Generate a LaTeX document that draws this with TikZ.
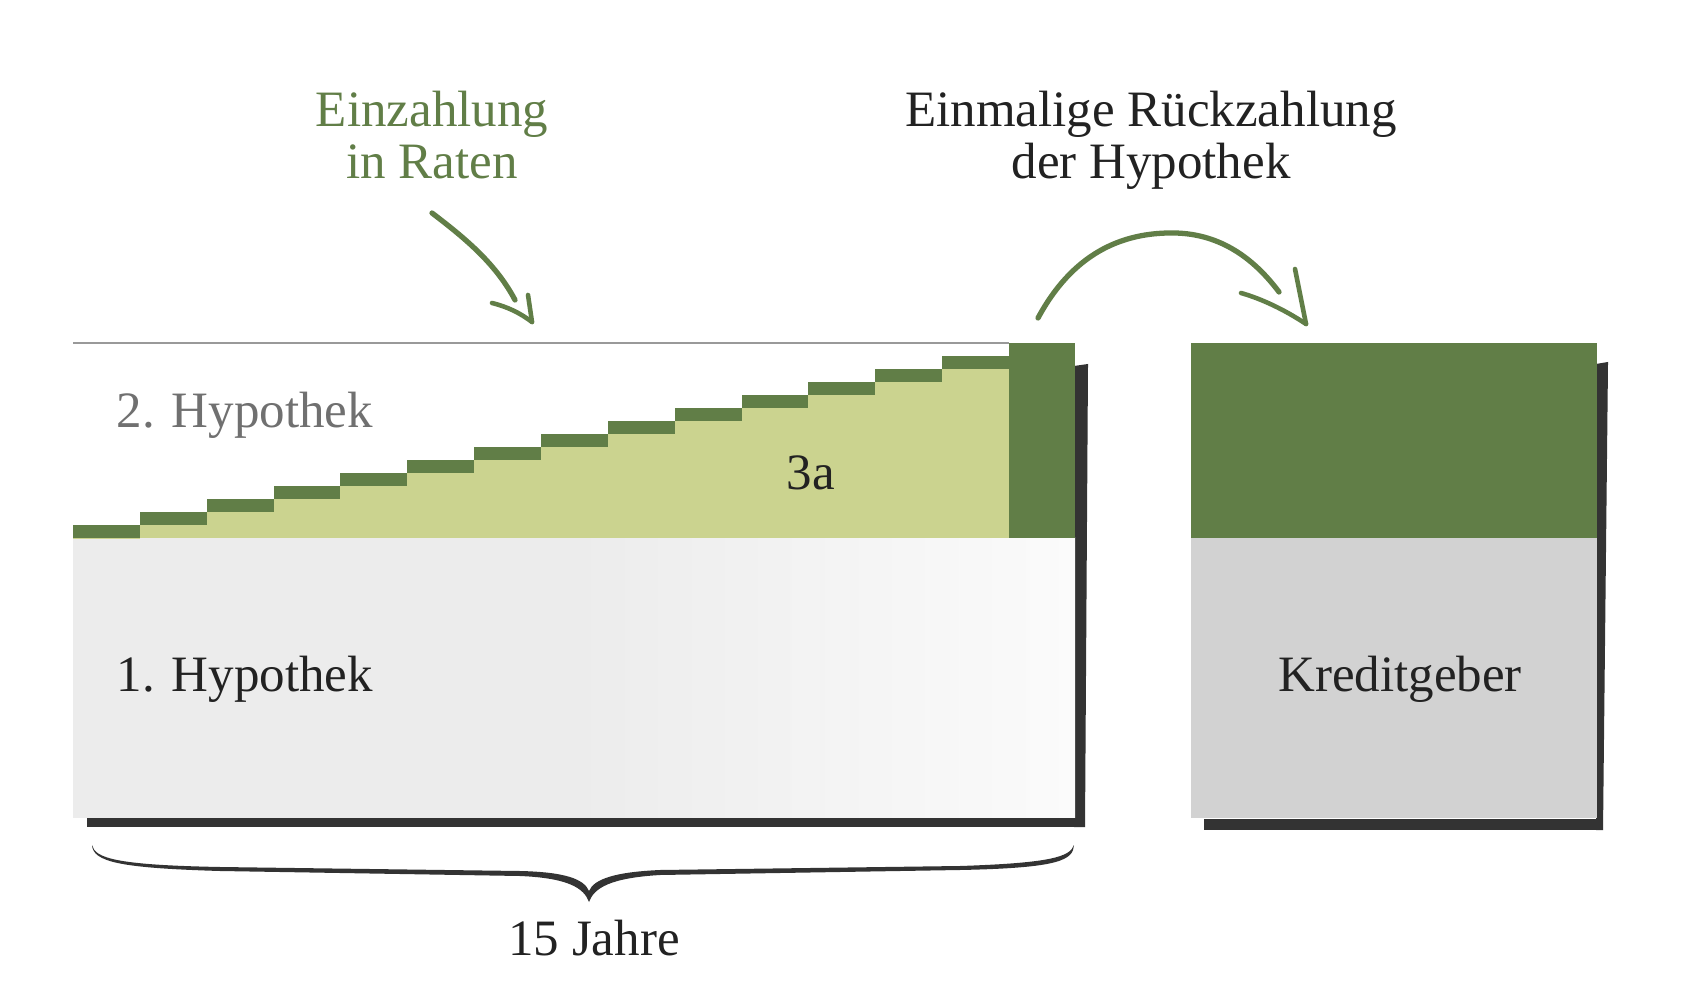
\documentclass[tikz,border=0pt]{standalone}
\usepackage{fontspec}
\setmainfont{Liberation Serif}
\definecolor{mgreen}{RGB}{97,126,71}
\definecolor{lgreen}{RGB}{203,211,143}
\definecolor{lgray}{RGB}{236,236,236}
\definecolor{lwhite}{RGB}{251,251,251}
\definecolor{kgray}{RGB}{210,210,210}
\definecolor{shadowc}{RGB}{51,51,51}
\definecolor{txt}{RGB}{34,34,34}
\definecolor{hgray}{RGB}{112,112,112}
\pgfdeclarehorizontalshading{boxfade}{100bp}{color(0bp)=(lgray); color(50bp)=(lgray); color(75bp)=(lwhite); color(100bp)=(lwhite)}
\tikzset{
  lbl/.style={inner sep=0pt, anchor=base, text=txt, font=\fontsize{14.5}{16}\selectfont},
  brush/.style={draw=mgreen, line width=1.5pt, line cap=round, line join=round},
  barb/.style={draw=mgreen, line width=1.3pt, line cap=round},
}
\begin{document}
\begin{tikzpicture}[x=0.01cm, y=-0.01cm]
\useasboundingbox (0,0) rectangle (1701,1001);
\fill[white] (0,0) rectangle (1701,1001);

% ---- left block: shadows
\fill[shadowc] (87,816) rectangle (1085,827);
\fill[shadowc] (1074,366) -- (1088,364) -- (1085,827) -- (1074,827) -- cycle;
% ---- left block: 1. Hypothek area
\shade[shading=boxfade] (73,538) rectangle (1075,817);
% top gray line
\draw[gray!80, line width=0.5pt] (73,343) -- (1009,343);
% ---- steps
\foreach \k in {0,...,13}{
  \fill[lgreen] ({73+66.86*\k},{538-13*\k}) rectangle ({73+66.86*(\k+1)+0.6},538.5);
  \fill[mgreen] ({73+66.86*\k},{525-13*\k}) rectangle ({73+66.86*(\k+1)+0.6},{538.4-13*\k});
}
\fill[mgreen] (1009,343) rectangle (1075,538.5);

% ---- right block
\fill[shadowc] (1204,819) rectangle (1603,830);
\fill[shadowc] (1596,364) -- (1608,362) -- (1603,830) -- (1596,830) -- cycle;
\fill[mgreen] (1191,343) rectangle (1597,538.5);
\fill[kgray] (1191,538) rectangle (1597,818);

% ---- texts
\node[lbl, text=mgreen] (ein1) at (432,127) {Einzahlung};
\node[lbl, text=mgreen] (ein2) at (432,179) {in Raten};
\node[lbl] (rk1) at (1151,127) {Einmalige Rückzahlung};
\node[lbl] (rk2) at (1151,179) {der Hypothek};
\node[lbl, anchor=base west, text=hgray] (h2) at (116,428) {2. Hypothek};
\node[lbl, anchor=base west] (h1) at (116,691) {1. Hypothek};
\node[lbl] (a3) at (811,490) {3a};
\node[lbl] (kg) at (1400,691) {Kreditgeber};
\node[lbl] (jahre) at (594,955) {15 Jahre};

% ---- arrow 1 (Einzahlung)
\coordinate (a1s) at (432,213);
\coordinate (a1e) at (515,300);
\coordinate (a1t) at (532,322);
\coordinate (a1b1) at (492,303);
\coordinate (a1b2) at (528,295);
\draw[brush] (a1s) .. controls (462,236) and (495,262) .. (a1e);
\draw[barb] (a1b1) .. controls (508,307) and (520,313) .. (a1t);
\draw[barb] (a1b2) -- (a1t);

% ---- arrow 2 (Rückzahlung)
\coordinate (a2s) at (1038,318);
\coordinate (a2m) at (1175,233);
\coordinate (a2e) at (1279,292);
\coordinate (a2t) at (1306,324);
\coordinate (a2b1) at (1241,293);
\coordinate (a2b2) at (1295,269);
\draw[brush] (a2s) .. controls (1072,255) and (1120,232) .. (a2m)
                   .. controls (1222,234) and (1255,260) .. (a2e);
\draw[barb] (a2b1) .. controls (1262,299) and (1285,310) .. (a2t);
\draw[barb] (a2b2) -- (a2t);

% ---- brace
\fill[shadowc] (92,845) .. controls (93,862) and (120,868) .. (220,871)
  -- (520,876) .. controls (568,878) and (584,888) .. (589,902)
  .. controls (594,888) and (610,878) .. (660,875)
  -- (960,870) .. controls (1060,868) and (1073,860) .. (1074,845)
  .. controls (1070,857) and (1050,863) .. (960,866)
  -- (660,870) .. controls (615,872) and (594,879) .. (589,891)
  .. controls (584,879) and (565,872) .. (520,871)
  -- (220,867) .. controls (115,865) and (95,858) .. (92,845) -- cycle;
\end{tikzpicture}
\end{document}
